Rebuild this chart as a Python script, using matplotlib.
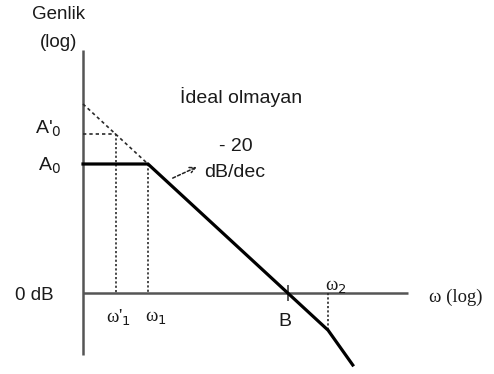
import matplotlib.pyplot as plt

# Bode kazanç eğrisi (asimptotik): x = log(w) [dekad], y = kazanç [dB]
w_knee = [0.0, 1.0, 3.15, 3.77, 4.15]      # eksen, w1, B, w2, son
gain_db = [43.0, 43.0, 0.0, -12.4, -24.0]

A0 = 43.0
A0_ideal = 53.0      # A'0
w1p = 0.5            # w'1
w1 = 1.0
wB = 3.15
w2 = 3.77
g_w2 = -12.4
ideal_start = 63.0   # kesikli çizginin eksendeki değeri

x_end = 5.0
y_top, y_bot = 81.0, -20.7

sans = ['Liberation Sans', 'DejaVu Sans']
serif = ['Liberation Serif', 'DejaVu Serif']
txt = '#1a1a1a'

fig = plt.figure(figsize=(4.94, 3.74), dpi=100)
ax = fig.add_axes([0, 0, 1, 1])
ax.set_xlim(-83 / 65, (494 - 83) / 65)
ax.set_ylim(-81 / 3, 293 / 3)
ax.axis('off')

# eksenler
ax.plot([0, 0], [y_bot, y_top], color='#555555', lw=1.8, solid_capstyle='butt')
ax.plot([0, x_end], [0, 0], color='#555555', lw=1.8, solid_capstyle='butt')
ax.plot([wB, wB], [-2.3, 2.3], color='#555555', lw=1.4)

# ideal olmayan (kesikli) eğri
dash = dict(color='#2a2a2a', lw=1.2)
ax.plot([0, w1], [ideal_start, A0], ls=(0, (2, 1.8)), **dash)
ax.plot([0, w1p], [A0_ideal, A0_ideal], ls=(0, (2, 1.8)), **dash)
ax.plot([w1p, w1p], [A0_ideal, 0], ls=(0, (1.3, 1.3)), **dash)
ax.plot([w1, w1], [A0, 0], ls=(0, (1.3, 1.3)), **dash)
ax.plot([w2, w2], [0, g_w2], ls=(0, (1.3, 1.3)), **dash)

# asimptotik kazanç
ax.plot(w_knee, gain_db, color='black', lw=2.3, solid_joinstyle='miter')

# -20 dB/dec oku
ax.annotate('', xy=(1.75, 42), xytext=(1.38, 38.3),
            arrowprops=dict(arrowstyle='->', color='#222222', lw=1.1,
                            ls=(0, (2, 1.5)), shrinkA=0, shrinkB=0))

# yazılar
ax.text(-0.38, 93, 'Genlik', fontsize=13.5, family=sans, color=txt, ha='center', va='center')
ax.text(-0.37, 83.5, '(log)', fontsize=13.5, family=sans, color=txt, ha='center', va='center')
ax.text(-0.54, A0_ideal + 1.8, 'A\'$_0$', fontsize=14, family=sans, color=txt, ha='center', va='center')
ax.text(-0.52, A0 - 0.7, 'A$_0$', fontsize=14, family=sans, color=txt, ha='center', va='center')
ax.text(-0.75, -0.7, '0 dB', fontsize=13.5, family=sans, color=txt, ha='center', va='center')
ax.text(2.43, 65.3, 'İdeal olmayan', fontsize=14, family=sans, color=txt, ha='center', va='center')
ax.text(2.35, 48.7, '- 20', fontsize=14, family=sans, color=txt, ha='center', va='center')
ax.text(2.34, 40.3, 'dB/dec', fontsize=14, family=sans, color=txt, ha='center', va='center')
ax.text(3.11, -9.5, 'B', fontsize=14, family=sans, color=txt, ha='center', va='center')
ax.text(0.55, -8.3, "ω'$_1$", fontsize=13.5, family=serif, color=txt, ha='center', va='center')
ax.text(1.12, -8.3, 'ω$_1$', fontsize=13.5, family=serif, color=txt, ha='center', va='center')
ax.text(3.89, 2.0, 'ω$_2$', fontsize=13.5, family=serif, color=txt, ha='center', va='center')
ax.text(5.74, -1.3, 'ω (log)', fontsize=13.5, family=serif, color=txt, ha='center', va='center')

fig.savefig('out.png', dpi=100)
